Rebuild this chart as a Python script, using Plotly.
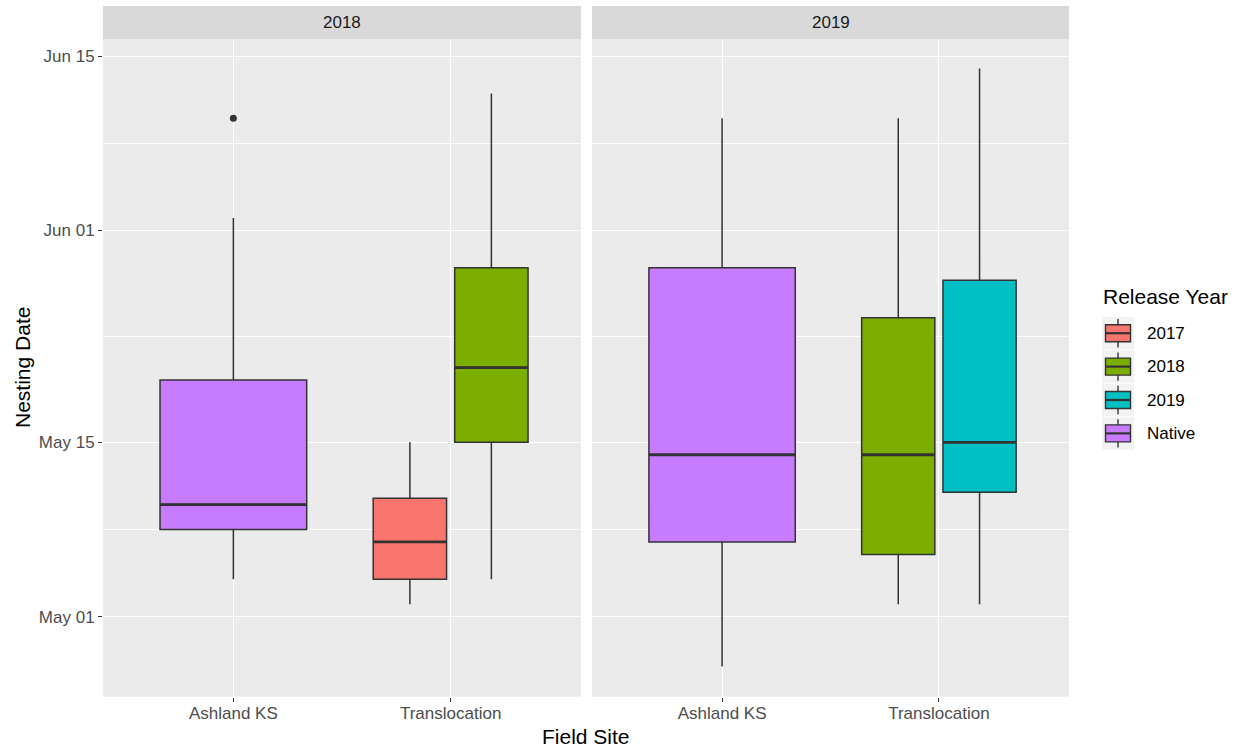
import datetime as dt
import plotly.graph_objects as go

# ---- data: nesting dates as days after May 01 ----
panels = ["2018", "2019"]
sites = ["Ashland KS", "Translocation"]

box_panel = ["2018", "2018", "2018", "2019", "2019", "2019"]
box_site = ["Ashland KS", "Translocation", "Translocation", "Ashland KS", "Translocation", "Translocation"]
box_release = ["Native", "2017", "2018", "Native", "2018", "2019"]
box_lower = [3, 1, 3, -4, 1, 1]
box_q1 = [7, 3, 14, 6, 5, 10]
box_median = [9, 6, 20, 13, 13, 14]
box_q3 = [19, 9.5, 28, 28, 24, 27]
box_upper = [32, 14, 42, 40, 40, 44]

outlier_panel = ["2018"]
outlier_site = ["Ashland KS"]
outlier_value = [40]

release_levels = ["2017", "2018", "2019", "Native"]
release_colors = ["#F8766D", "#7CAE00", "#00BFC4", "#C77CFF"]

tick_dates = ["2018-05-01", "2018-05-15", "2018-06-01", "2018-06-15"]

# ---- styling ----
W, H = 1241, 748
FONT = "Liberation Sans"
OUTLINE = "#333333"
PANEL_BG = "#EBEBEB"
STRIP_BG = "#D9D9D9"

base = dt.date(2018, 5, 1)
tick_vals = [(dt.date.fromisoformat(d) - base).days for d in tick_dates]
tick_text = [dt.date.fromisoformat(d).strftime("%b %d") for d in tick_dates]
minor_vals = [(a + b) / 2 for a, b in zip(tick_vals[:-1], tick_vals[1:])]

color_of = dict(zip(release_levels, release_colors))
site_pos = {s: i + 1 for i, s in enumerate(sites)}
axis_of = {p: ("x" if i == 0 else f"x{i + 1}", "y" if i == 0 else f"y{i + 1}") for i, p in enumerate(panels)}


def px_x(x):
    return x / W


def px_y(y):
    return 1 - y / H


fig = go.Figure()

# dodge boxes sharing a site within a panel (total width 0.75, 10% padding)
for i in range(len(box_panel)):
    group = [j for j in range(len(box_panel)) if box_panel[j] == box_panel[i] and box_site[j] == box_site[i]]
    n = len(group)
    k = group.index(i)
    slot = 0.75 / n
    pos = site_pos[box_site[i]] + (k - (n - 1) / 2) * slot
    w = slot * 0.9
    xa, ya = axis_of[box_panel[i]]
    fig.add_trace(go.Box(
        x=[pos], q1=[box_q1[i]], median=[box_median[i]], q3=[box_q3[i]],
        lowerfence=[box_lower[i]], upperfence=[box_upper[i]],
        width=w, whiskerwidth=0, boxpoints=False,
        fillcolor=color_of[box_release[i]],
        line=dict(color=OUTLINE, width=1.5),
        xaxis=xa, yaxis=ya, showlegend=False, hoverinfo="skip",
    ))
    # thicker median bar
    fig.add_trace(go.Scatter(
        x=[pos - w / 2, pos + w / 2], y=[box_median[i], box_median[i]],
        mode="lines", line=dict(color=OUTLINE, width=2.8),
        xaxis=xa, yaxis=ya, showlegend=False, hoverinfo="skip",
    ))

for p, s, v in zip(outlier_panel, outlier_site, outlier_value):
    xa, ya = axis_of[p]
    fig.add_trace(go.Scatter(
        x=[site_pos[s]], y=[v], mode="markers",
        marker=dict(color=OUTLINE, size=7),
        xaxis=xa, yaxis=ya, showlegend=False, hoverinfo="skip",
    ))

# ---- axes ----
y_dom = [px_y(696.7), px_y(39)]
x_doms = [[px_x(103), px_x(581)], [px_x(592), px_x(1069)]]
y_range = [-6.42, 46.37]

common_x = dict(
    range=[0.4, 2.6], tickvals=[1, 2], ticktext=sites,
    showgrid=True, gridcolor="white", gridwidth=1.3, zeroline=False,
    ticks="outside", ticklen=4, tickwidth=1, tickcolor=OUTLINE,
    tickfont=dict(family=FONT, size=17, color="#4D4D4D"), ticklabelstandoff=-3,
    showline=False, fixedrange=True,
)
common_y = dict(
    range=y_range, tickvals=tick_vals, ticktext=tick_text,
    showgrid=True, gridcolor="white", gridwidth=1.3, zeroline=False,
    minor=dict(tickvals=minor_vals, showgrid=True, gridcolor="white", gridwidth=0.6, ticks=""),
    domain=y_dom, showline=False, fixedrange=True,
)

fig.update_layout(
    xaxis=dict(domain=x_doms[0], anchor="y", **common_x),
    xaxis2=dict(domain=x_doms[1], anchor="y2", **common_x),
    yaxis=dict(anchor="x", ticks="outside", ticklen=4, tickwidth=1, tickcolor=OUTLINE,
               tickfont=dict(family=FONT, size=17, color="#4D4D4D"), **common_y),
    yaxis2=dict(anchor="x2", matches="y", showticklabels=False, ticks="", **common_y),
    plot_bgcolor=PANEL_BG, paper_bgcolor="white",
    width=W, height=H, margin=dict(l=0, r=0, t=0, b=0, pad=0),
    showlegend=False, boxmode="overlay",
)

shapes = []
annotations = []

# facet strips
for i, p in enumerate(panels):
    xa = axis_of[p][0]
    shapes.append(dict(type="rect", xref=f"{xa} domain", yref="paper",
                       x0=0, x1=1, y0=px_y(39), y1=px_y(6),
                       fillcolor=STRIP_BG, line=dict(width=0), layer="below"))
    annotations.append(dict(text=p, xref=f"{xa} domain", yref="paper", x=0.5, y=px_y(22.5),
                            showarrow=False, xanchor="center", yanchor="middle",
                            font=dict(family=FONT, size=17, color="#1A1A1A")))

# axis titles
annotations.append(dict(text="Field Site", xref="paper", yref="paper",
                        x=px_x(586), y=px_y(736), showarrow=False,
                        xanchor="center", yanchor="middle",
                        font=dict(family=FONT, size=21, color="black")))
annotations.append(dict(text="Nesting Date", xref="paper", yref="paper",
                        x=px_x(22), y=px_y(368), showarrow=False, textangle=-90,
                        xanchor="center", yanchor="middle",
                        font=dict(family=FONT, size=21, color="black")))

# legend drawn as ggplot-style keys
annotations.append(dict(text="Release Year", xref="paper", yref="paper",
                        x=px_x(1101), y=px_y(297), showarrow=False,
                        xanchor="left", yanchor="middle",
                        font=dict(family=FONT, size=21, color="black")))
key_x0, key_x1 = 1102, 1134
key_top, key_h = 317, 33.4
for i, (lab, col) in enumerate(zip(release_levels, release_colors)):
    t = key_top + i * key_h
    b = t + key_h - 1
    cy = (t + b) / 2
    cx = (key_x0 + key_x1) / 2
    shapes.append(dict(type="rect", xref="paper", yref="paper",
                       x0=px_x(key_x0), x1=px_x(key_x1), y0=px_y(b), y1=px_y(t),
                       fillcolor="#F2F2F2", line=dict(width=0)))
    shapes.append(dict(type="line", xref="paper", yref="paper",
                       x0=px_x(cx), x1=px_x(cx), y0=px_y(b - 2), y1=px_y(t + 2),
                       line=dict(color=OUTLINE, width=1.4)))
    shapes.append(dict(type="rect", xref="paper", yref="paper",
                       x0=px_x(key_x0 + 3.5), x1=px_x(key_x1 - 3.5), y0=px_y(cy + 8.5), y1=px_y(cy - 8.5),
                       fillcolor=col, line=dict(color=OUTLINE, width=1.4)))
    shapes.append(dict(type="line", xref="paper", yref="paper",
                       x0=px_x(key_x0 + 3.5), x1=px_x(key_x1 - 3.5), y0=px_y(cy), y1=px_y(cy),
                       line=dict(color=OUTLINE, width=2.2)))
    annotations.append(dict(text=lab, xref="paper", yref="paper",
                            x=px_x(1145), y=px_y(cy), showarrow=False,
                            xanchor="left", yanchor="middle",
                            font=dict(family=FONT, size=17, color="black")))

fig.update_layout(shapes=shapes, annotations=annotations)

fig.write_html("out.html")
